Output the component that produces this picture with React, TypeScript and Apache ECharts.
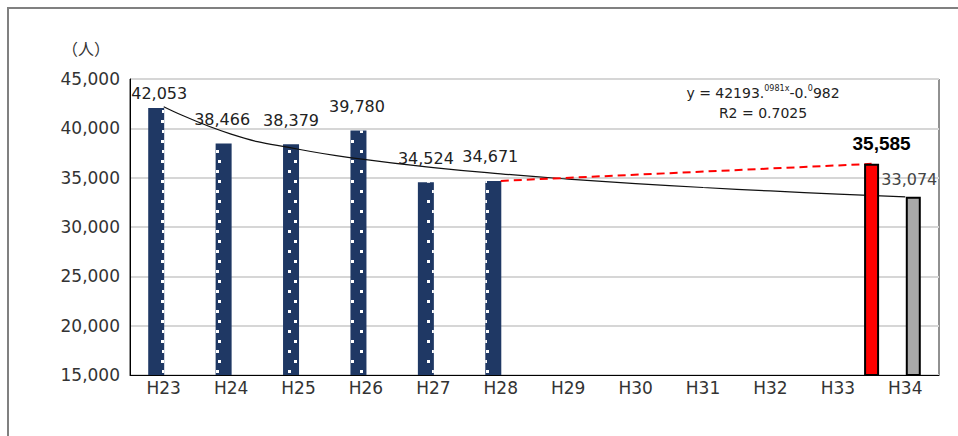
import React, { useEffect, useRef } from "react";
import * as echarts from "echarts";

const categories = ["H23", "H24", "H25", "H26", "H27", "H28", "H29", "H30", "H31", "H32", "H33", "H34"];
const actualValues = [42053, 38466, 38379, 39780, 34524, 34671, null, null, null, null, null, null];
const forecastValues = [null, null, null, null, null, null, null, null, null, null, null, 33074];
const trendValues = [42193, 39416, 37878, 36823, 36025, 35386, 34854, 34400, 34004, 33654, 33341, 33057];
const targetValue = 36400;
const targetLabel = "35,585";
const yTicks = { min: 15000, max: 45000, interval: 5000 };
const unitLabel = "（人）";
const equationParts = ["y = 42193.", "0981x", "-0.", "0", "982"];
const r2Label = "R2 = 0.7025";
const actualLabelDistance = [7, 16, 16, 16, 16, 16];
const actualLabelShift = [3, -1.5, 0, -1.5, 0, -3];

export default function App() {
  const ref = useRef<HTMLDivElement>(null);
  useEffect(() => {
    if (!ref.current) return;
    const chart = echarts.init(ref.current, null, { renderer: "svg" });
    const fmt = (v: number) => v.toLocaleString("en-US");
    const lastActual = categories.indexOf("H28");
    const targetPos = categories.indexOf("H34");
    const font = "DejaVu Sans";

    const option: any = {
      animation: false,
      backgroundColor: "#ffffff",
      grid: { left: 130, top: 79, width: 809, height: 296, show: true, borderColor: "#222", borderWidth: 1, containLabel: false },
      xAxis: [
        {
          type: "category",
          data: categories,
          axisLine: { show: true, lineStyle: { color: "#000", width: 1 } },
          axisTick: { show: false },
          axisLabel: { fontFamily: font, fontSize: 17, color: "#333", margin: 4 },
          splitLine: { show: false },
        },
        { type: "value", min: 0, max: categories.length, show: false },
      ],
      yAxis: {
        type: "value",
        min: yTicks.min,
        max: yTicks.max,
        interval: yTicks.interval,
        axisLine: { show: true, lineStyle: { color: "#000", width: 1 } },
        axisTick: { show: false },
        axisLabel: { fontFamily: font, fontSize: 17, color: "#333", margin: 10, formatter: fmt },
        splitLine: { show: true, lineStyle: { color: "#d6d6d6", width: 2 } },
      },
      series: [
        {
          type: "bar",
          xAxisIndex: 0,
          barWidth: 16,
          barGap: "0%",
          z: 2,
          data: actualValues.map((v, i) =>
            v == null
              ? null
              : {
                  value: v,
                  label: { distance: actualLabelDistance[i], offset: [actualLabelShift[i], 0] },
                }
          ),
          itemStyle: {
            color: "#1f3864",
            decal: {
              symbol: "rect",
              symbolSize: 1,
              color: "#ffffff",
              dashArrayX: [[2.5, 15], [0, 8.75, 2.5, 6.25]],
              dashArrayY: [2.5, 6.25],
              rotation: 0,
            },
          },
          label: {
            show: true,
            position: "top",
            fontFamily: font,
            fontSize: 16,
            color: "#222",
            formatter: (p: any) => fmt(p.value),
          },
        },
        {
          type: "bar",
          xAxisIndex: 0,
          barWidth: 15,
          barGap: "0%",
          z: 4,
          data: forecastValues,
          itemStyle: { color: "#a9a9a9", borderColor: "#000", borderWidth: 2 },
          label: {
            show: true,
            position: "top",
            distance: 9,
            offset: [-4, 0],
            fontFamily: font,
            fontSize: 16,
            color: "#444",
            formatter: (p: any) => fmt(p.value),
          },
        },
        {
          type: "line",
          xAxisIndex: 0,
          data: trendValues,
          smooth: true,
          symbol: "none",
          z: 3,
          lineStyle: { color: "#111", width: 1.2 },
        },
        {
          type: "line",
          xAxisIndex: 1,
          data: [
            [lastActual + 0.5, actualValues[lastActual]],
            [targetPos, targetValue],
          ],
          symbol: "none",
          z: 3,
          lineStyle: { color: "#ff0000", width: 2, type: [8, 5] },
        },
        {
          type: "bar",
          xAxisIndex: 1,
          barWidth: 15,
          z: 5,
          data: [[targetPos, targetValue]],
          itemStyle: { color: "#ff0000", borderColor: "#000", borderWidth: 2 },
          label: {
            show: true,
            position: "top",
            distance: 11,
            offset: [10, 0],
            fontFamily: "Liberation Sans",
            fontWeight: "bold",
            fontSize: 19,
            color: "#000",
            formatter: () => targetLabel,
          },
        },
      ],
      graphic: [
        {
          type: "rect",
          shape: { x: 8, y: 8, width: 960, height: 440 },
          style: { fill: "none", stroke: "#808080", lineWidth: 2 },
          silent: true,
        },
        {
          type: "text",
          x: 62,
          y: 48,
          style: {
            text: unitLabel,
            fontFamily: "Noto Sans CJK JP",
            fontSize: 16,
            fill: "#333",
            verticalAlign: "middle",
          },
        },
        {
          type: "text",
          x: 763,
          y: 93,
          style: {
            text:
              `{a|${equationParts[0]}}{s|${equationParts[1]}}{a|${equationParts[2]}}{s|${equationParts[3]}}{a|${equationParts[4]}}`,
            align: "center",
            verticalAlign: "middle",
            rich: {
              a: { fontFamily: font, fontSize: 14, fill: "#222", color: "#222", lineHeight: 18 },
              s: { fontFamily: font, fontSize: 8, fill: "#222", color: "#222", lineHeight: 18, verticalAlign: "top" },
            },
          },
        },
        {
          type: "text",
          x: 763,
          y: 113,
          style: {
            text: r2Label,
            fontFamily: font,
            fontSize: 14,
            fill: "#222",
            align: "center",
            verticalAlign: "middle",
          },
        },
      ],
    };
    chart.setOption(option);
    return () => chart.dispose();
  }, []);
  return <div ref={ref} style={{ position: "absolute", left: 0, top: 0, width: 958, height: 436 }} />;
}
